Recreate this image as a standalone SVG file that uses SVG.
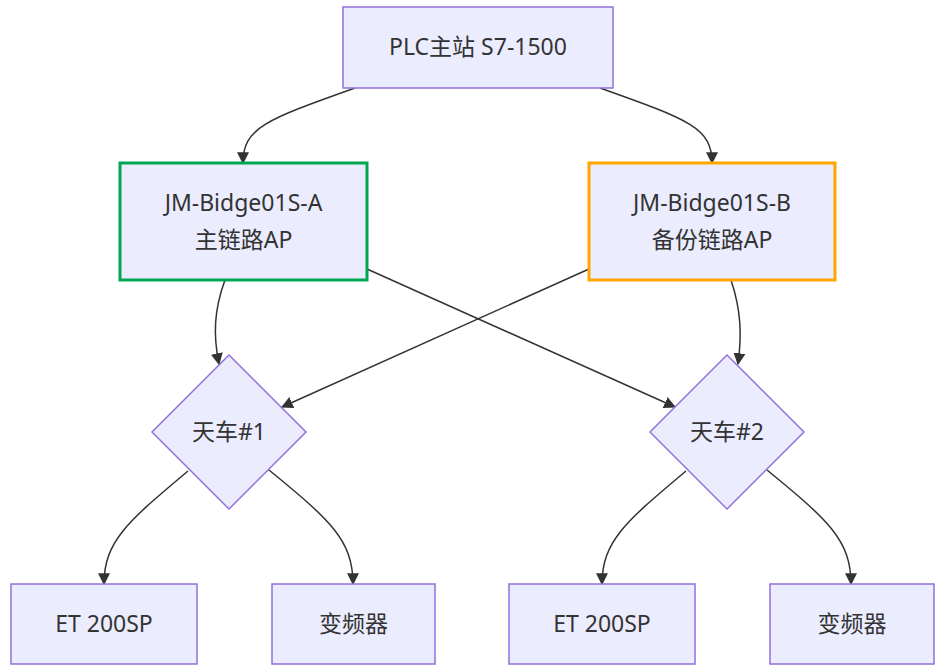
<svg xmlns="http://www.w3.org/2000/svg" width="943" height="670" viewBox="0 0 943 670">
<style>
.node{fill:#ECECFF;stroke:#9370DB;stroke-width:1.5}
.t{font-family:"Noto Sans","Noto Sans CJK SC",sans-serif;font-size:23px;fill:#333;text-anchor:middle}
.e{fill:none;stroke:#333;stroke-width:1.5}
</style>
<defs>
<marker id="arr" viewBox="0 0 10 10" refX="9" refY="5" markerUnits="userSpaceOnUse" markerWidth="12" markerHeight="12" orient="auto">
<path d="M0,0 L10,5 L0,10 z" fill="#333"/>
</marker>
</defs>
<rect width="943" height="670" fill="#fff"/>
<g id="connectors">
<path class="e" marker-end="url(#arr)" d="M355,88 C265,120 243,128 243,163"/>
<path class="e" marker-end="url(#arr)" d="M600,88 C690,120 712,128 712,163"/>
<path class="e" marker-end="url(#arr)" d="M225,280 C214,310 213,335 219,364"/>
<path class="e" marker-end="url(#arr)" d="M731,280 C741,310 742,335 738,364"/>
<path class="e" marker-end="url(#arr)" d="M367,269 L675,407"/>
<path class="e" marker-end="url(#arr)" d="M589,269 L282,407"/>
<path class="e" marker-end="url(#arr)" d="M188,471 C130,520 104,540 104,584"/>
<path class="e" marker-end="url(#arr)" d="M269,470 C330,520 353,540 353,584"/>
<path class="e" marker-end="url(#arr)" d="M686,471 C628,520 602,540 602,584"/>
<path class="e" marker-end="url(#arr)" d="M767,470 C828,520 851,540 851,584"/>
</g>
<g id="plc">
<rect class="node" x="343" y="7" width="270" height="81"/>
<text class="t" x="478" y="55">PLC主站 S7-1500</text>
</g>
<g id="apA">
<rect class="node" x="120" y="163" width="247" height="117" style="stroke:#00A651;stroke-width:3"/>
<text class="t" x="243.5" y="211">JM-Bidge01S-A</text>
<text class="t" x="243.5" y="248">主链路AP</text>
</g>
<g id="apB">
<rect class="node" x="589" y="163" width="246" height="117" style="stroke:#FFA500;stroke-width:3"/>
<text class="t" x="712" y="211">JM-Bidge01S-B</text>
<text class="t" x="712" y="248">备份链路AP</text>
</g>
<g id="crane1">
<polygon class="node" points="229,355 306,432 229,509 152,432"/>
<text class="t" x="229" y="440">天车#1</text>
</g>
<g id="crane2">
<polygon class="node" points="727,355 804,432 727,509 650,432"/>
<text class="t" x="727" y="440">天车#2</text>
</g>
<g id="et1">
<rect class="node" x="11" y="584" width="186" height="80"/>
<text class="t" x="104" y="632">ET 200SP</text>
</g>
<g id="vfd1">
<rect class="node" x="272" y="584" width="163" height="80"/>
<text class="t" x="353.5" y="632">变频器</text>
</g>
<g id="et2">
<rect class="node" x="509" y="584" width="186" height="80"/>
<text class="t" x="602" y="632">ET 200SP</text>
</g>
<g id="vfd2">
<rect class="node" x="770" y="584" width="164" height="80"/>
<text class="t" x="852" y="632">变频器</text>
</g>
</svg>
